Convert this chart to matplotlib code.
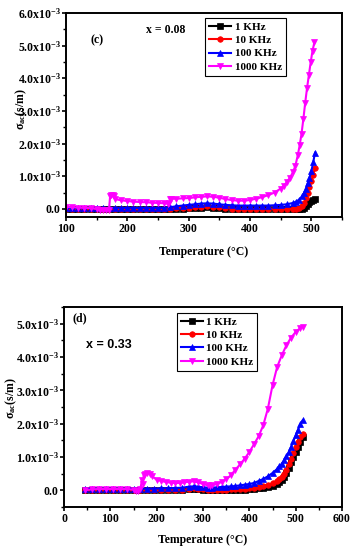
import matplotlib
matplotlib.use("Agg")
import matplotlib.pyplot as plt
from matplotlib.ticker import MultipleLocator, FuncFormatter

plt.rcParams['font.family'] = ['Liberation Serif', 'DejaVu Serif']
plt.rcParams['font.weight'] = 'bold'
plt.rcParams['mathtext.fontset'] = 'custom'
plt.rcParams['mathtext.rm'] = 'Liberation Serif:bold'
plt.rcParams['mathtext.it'] = 'Liberation Serif:italic:bold'
plt.rcParams['mathtext.bf'] = 'Liberation Serif:bold'
plt.rcParams['mathtext.default'] = 'rm'

labels = ['1 KHz', '10 KHz', '100 KHz', '1000 KHz']
colors = ['black', 'red', 'blue', 'magenta']
markers = ['s', 'o', '^', 'v']

# ---------- panel (c), x = 0.08 (values in units of 1e-3 S/m) ----------
T_c = [100, 110, 120, 130, 140, 150, 160, 170, 180, 190, 200, 210, 220, 230, 240, 250, 260,
       270, 280, 290, 300, 310, 320, 330, 340, 350, 360, 370, 380, 390, 400, 410, 420, 430,
       440, 450, 460, 470, 475, 480, 485, 488, 491, 494, 497, 500, 503, 506]
c_1k = [-0.02, -0.02, -0.02, -0.02, -0.02, -0.02, -0.02, -0.02, -0.02, -0.02, -0.02, -0.02, -0.02,
        -0.02, -0.02, -0.02, -0.02, -0.01, 0.0, 0.01, 0.02, 0.03, 0.04, 0.05, 0.04, 0.02, 0.0,
        -0.01, -0.02, -0.02, -0.02, -0.02, -0.02, -0.02, -0.02, -0.02, -0.02, -0.02, -0.02, -0.01,
        0.0, 0.02, 0.08, 0.14, 0.2, 0.25, 0.28, 0.30]
c_10k = [0.0, 0.0, 0.0, 0.0, 0.0, 0.0, 0.0, 0.0, 0.0, 0.0, 0.0, 0.0, 0.0, 0.0, 0.0, 0.0, 0.0,
         0.01, 0.02, 0.03, 0.04, 0.05, 0.07, 0.08, 0.07, 0.05, 0.03, 0.01, 0.0, 0.0, 0.0, 0.0,
         0.0, 0.0, 0.0, 0.0, 0.0, 0.0, 0.01, 0.03, 0.08, 0.18, 0.32, 0.48, 0.66, 0.85, 1.05, 1.24]
c_100k = [0.03, 0.03, 0.03, 0.03, 0.03, 0.03, 0.03, 0.03, 0.03, 0.03, 0.03, 0.03, 0.03, 0.03,
          0.03, 0.03, 0.03, 0.05, 0.08, 0.10, 0.12, 0.14, 0.16, 0.17, 0.16, 0.14, 0.12, 0.11,
          0.10, 0.10, 0.10, 0.10, 0.10, 0.10, 0.11, 0.12, 0.14, 0.18, 0.22, 0.28, 0.38, 0.48,
          0.62, 0.78, 0.95, 1.15, 1.42, 1.72]
T_c_1000 = [100, 110, 120, 130, 140, 150, 155, 160, 165, 170, 172, 174, 176, 178, 180, 190, 200,
            210, 220, 230, 240, 250, 260, 266, 268, 270, 272, 280, 290, 300, 310, 320, 330, 340,
            350, 360, 370, 380, 390, 400, 410, 420, 430, 440, 450, 455, 460, 465, 470, 474, 478,
            481, 484, 487, 490, 493, 496, 499, 502, 505]
c_1000k = [0.06, 0.05, 0.04, 0.03, 0.02, 0.0, -0.03, -0.05, -0.05, -0.04, 0.40, 0.42, 0.42, 0.40,
           0.30, 0.26, 0.24, 0.22, 0.21, 0.20, 0.19, 0.18, 0.17, 0.16, 0.17, 0.30, 0.31, 0.31,
           0.32, 0.33, 0.35, 0.37, 0.38, 0.37, 0.34, 0.30, 0.27, 0.25, 0.25, 0.27, 0.31, 0.36,
           0.42, 0.50, 0.62, 0.70, 0.82, 0.95, 1.12, 1.32, 1.65, 1.95, 2.30, 2.75, 3.25, 3.70,
           4.10, 4.50, 4.85, 5.10]

# ---------- panel (d), x = 0.33 ----------
T_d = [45, 60, 75, 90, 105, 120, 135, 150, 165, 180, 195, 210, 225, 240, 255, 270, 280, 290,
       300, 310, 320, 330, 340, 350, 360, 370, 380, 390, 400, 410, 420, 430, 440, 450, 460,
       465, 470, 475, 480, 485, 490, 495, 500, 505, 510, 515]
d_1k = [0.0, 0.0, 0.0, 0.0, 0.0, 0.0, 0.0, 0.0, 0.0, 0.0, 0.0, 0.0, 0.0, 0.0, 0.0, 0.03, 0.05,
        0.04, 0.02, 0.01, 0.01, 0.01, 0.01, 0.01, 0.01, 0.01, 0.01, 0.02, 0.03, 0.04, 0.06, 0.08,
        0.10, 0.14, 0.20, 0.24, 0.30, 0.40, 0.52, 0.68, 0.84, 1.00, 1.15, 1.30, 1.45, 1.60]
d_10k = [0.0, 0.0, 0.0, 0.0, 0.0, 0.0, 0.0, 0.0, 0.0, 0.0, 0.0, 0.0, 0.0, 0.0, 0.0, 0.04, 0.06,
         0.05, 0.03, 0.02, 0.02, 0.02, 0.02, 0.02, 0.03, 0.03, 0.04, 0.05, 0.06, 0.08, 0.10,
         0.13, 0.16, 0.22, 0.28, 0.33, 0.40, 0.50, 0.62, 0.78, 0.95, 1.12, 1.30, 1.45, 1.60, 1.70]
d_100k = [0.05, 0.05, 0.05, 0.05, 0.05, 0.05, 0.05, 0.05, 0.05, 0.05, 0.05, 0.06, 0.06, 0.07,
          0.08, 0.11, 0.12, 0.11, 0.09, 0.08, 0.08, 0.09, 0.10, 0.11, 0.12, 0.13, 0.15, 0.17,
          0.19, 0.22, 0.28, 0.34, 0.42, 0.52, 0.64, 0.72, 0.80, 0.90, 1.02, 1.15, 1.30, 1.48,
          1.65, 1.82, 1.98, 2.10]
T_d_1000 = [45, 60, 75, 90, 105, 120, 135, 150, 155, 160, 165, 168, 170, 172, 175, 180, 185,
            190, 200, 210, 220, 230, 240, 250, 260, 270, 280, 290, 300, 310, 315, 320, 330, 340,
            350, 360, 370, 380, 390, 400, 410, 420, 430, 440, 450, 460, 470, 480, 490, 500, 510, 515]
d_1000k = [0.0, 0.03, 0.04, 0.04, 0.04, 0.04, 0.04, 0.02, -0.03, -0.03, 0.05, 0.30, 0.20, 0.45,
           0.50, 0.52, 0.50, 0.42, 0.32, 0.28, 0.25, 0.23, 0.22, 0.22, 0.24, 0.26, 0.27, 0.24,
           0.19, 0.15, 0.14, 0.15, 0.19, 0.25, 0.33, 0.45, 0.62, 0.78, 0.95, 1.15, 1.38, 1.62,
           1.95, 2.45, 3.15, 3.70, 4.05, 4.35, 4.58, 4.75, 4.87, 4.90]


def fmt(v, pos):
    if abs(v) < 1e-9:
        return '0.0'
    return r'%.1fx10$^{-3}$' % v


fig = plt.figure(figsize=(3.57, 5.50), dpi=100)
ax1 = fig.add_axes([66 / 357, 1 - 217 / 550, (342 - 66) / 357, (217 - 13) / 550])
ax2 = fig.add_axes([64 / 357, 1 - 507 / 550, (342 - 64) / 357, (507 - 307) / 550])

series_c = [(T_c, c_1k), (T_c, c_10k), (T_c, c_100k), (T_c_1000, c_1000k)]
series_d = [(T_d, d_1k), (T_d, d_10k), (T_d, d_100k), (T_d_1000, d_1000k)]

for ax, series in ((ax1, series_c), (ax2, series_d)):
    for (t, v), lab, col, mk in zip(series, labels, colors, markers):
        ax.plot(t, v, color=col, marker=mk, markersize=4, lw=1.5, label=lab,
                markeredgewidth=0.5)
    ax.yaxis.set_major_formatter(FuncFormatter(fmt))
    ax.xaxis.set_major_locator(MultipleLocator(100))
    ax.xaxis.set_minor_locator(MultipleLocator(50))
    ax.yaxis.set_minor_locator(MultipleLocator(0.5))
    ax.yaxis.set_major_locator(MultipleLocator(1.0))
    ax.tick_params(which='major', direction='out', length=3, width=1.2, labelsize=8.5, pad=1)
    ax.tick_params(which='minor', direction='out', length=2, width=1.0)
    for s in ax.spines.values():
        s.set_linewidth(1.4)
    ax.set_xlabel('Temperature (\u00b0C)', fontsize=8.5, fontweight='bold', va='center')
    ax.set_ylabel(r'$\sigma_{ac}$(s/m)', fontsize=8.5, fontweight='bold', va='center')
    for lbl in ax.get_xticklabels() + ax.get_yticklabels():
        lbl.set_fontweight('bold')

ax1.set_xlim(100, 550)
ax1.set_ylim(-0.25, 6.0)
ax2.set_xlim(0, 600)
ax2.set_ylim(-0.5, 5.5)

ax1.xaxis.set_label_coords(0.5, -(252 - 217) / 204)
ax2.xaxis.set_label_coords(0.5, -(540 - 507) / 200)
ax1.yaxis.set_label_coords(-(66 - 21) / 276, 0.53)
ax2.yaxis.set_label_coords(-(64 - 11) / 278, 0.545)

leg_kw = dict(loc='upper left', borderaxespad=0, fancybox=False, edgecolor='black',
              framealpha=1, handlelength=2.0, handletextpad=0.3,
              labelspacing=0.32, borderpad=0.35, prop={'weight': 'bold', 'size': 8})
l1 = ax1.legend(bbox_to_anchor=(0.505, 0.975), **leg_kw)
l2 = ax2.legend(bbox_to_anchor=(0.406, 0.97), **leg_kw)
for lg in (l1, l2):
    lg.get_frame().set_linewidth(0.8)

ax1.text(150, 5.17, '(c)', fontsize=8.5, fontweight='bold', ha='center', va='center')
ax1.text(262, 5.47, 'x = 0.08', fontsize=8.5, fontweight='bold', ha='center', va='center')
ax2.text(35, 5.15, '(d)', fontsize=8.5, fontweight='bold', ha='center', va='center')
ax2.text(48, 4.35, 'x = 0.33', fontsize=9, fontweight='bold', ha='left', va='center',
         family=['Liberation Sans', 'DejaVu Sans'])

fig.savefig('out.png', dpi=100)
